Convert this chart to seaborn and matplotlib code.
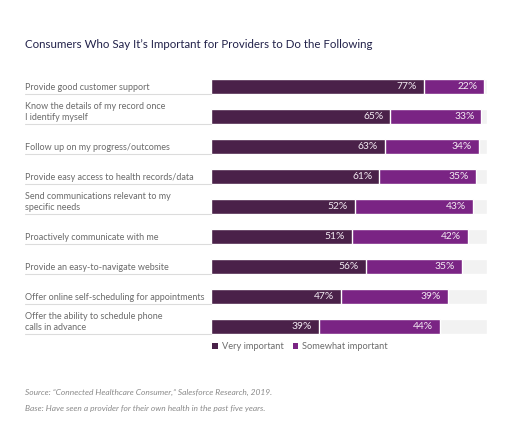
import matplotlib
matplotlib.use("Agg")
import matplotlib.pyplot as plt
import matplotlib.transforms as mtransforms
from matplotlib.lines import Line2D
from matplotlib.patches import Patch
import seaborn as sns
import pandas as pd

categories = [
    "Provide good customer support",
    "Know the details of my record once\nI identify myself",
    "Follow up on my progress/outcomes",
    "Provide easy access to health records/data",
    "Send communications relevant to my\nspecific needs",
    "Proactively communicate with me",
    "Provide an easy-to-navigate website",
    "Offer online self-scheduling for appointments",
    "Offer the ability to schedule phone\ncalls in advance",
]
very_important = [77, 65, 63, 61, 52, 51, 56, 47, 39]
somewhat_important = [22, 33, 34, 35, 43, 42, 35, 39, 44]
series_names = ["Very important", "Somewhat important"]

DARK = "#4a2149"
PURPLE = "#7a2484"
BG = "#f2f2f2"

sns.set_theme(style="white")
plt.rcParams["font.family"] = ["Lato", "DejaVu Sans"]

df = pd.DataFrame({
    "cat": categories,
    "very": very_important,
    "somewhat": somewhat_important,
})
df["total"] = df["very"] + df["somewhat"]
df["full"] = 100

fig = plt.figure(figsize=(5.12, 4.36), dpi=100)
ax = fig.add_axes([211 / 512, 1 - 341.5 / 436, 276 / 512, 270 / 436])

sns.barplot(data=df, y="cat", x="full", color=BG, width=0.5, ax=ax,
            saturation=1, orient="h")
sns.barplot(data=df, y="cat", x="total", color=PURPLE, width=0.5, ax=ax,
            saturation=1, orient="h")
sns.barplot(data=df, y="cat", x="very", color=DARK, width=0.5, ax=ax,
            saturation=1, orient="h")

ax.set_xlim(0, 100)
ax.set_ylim(8.5, -0.5)
ax.axis("off")

pad = mtransforms.offset_copy(ax.transData, fig=fig, x=-7, y=0, units="dots")
for i, (v, s) in enumerate(zip(very_important, somewhat_important)):
    ax.text(v, i, f"{v}%", transform=pad, ha="right", va="center",
            color="#f3ecf3", fontsize=7.4)
    ax.text(v + s, i, f"{s}%", transform=pad, ha="right", va="center",
            color="#f3ecf3", fontsize=7.4)

blend = mtransforms.blended_transform_factory(fig.transFigure, ax.transData)
for i, c in enumerate(categories):
    ax.text(25 / 512, i + 0.11, c, transform=blend, ha="left", va="baseline",
            color="#6b6b6b", fontsize=6.5, linespacing=1.25, clip_on=False)
    ax.add_line(Line2D([25 / 512, 211 / 512], [i + 0.25, i + 0.25],
                       transform=blend, color="#dcdcdc", lw=0.8, clip_on=False))

fig.text(25 / 512, 1 - 45 / 436, "Consumers Who Say It\u2019s Important for Providers to Do the Following",
         ha="left", va="center", color="#22224a", fontsize=8.3)

handles = [Patch(facecolor=DARK, edgecolor="none"),
           Patch(facecolor=PURPLE, edgecolor="none")]
fig.legend(handles, series_names, loc="center left",
           bbox_to_anchor=(204 / 512, 1 - 346.5 / 436), ncol=2, frameon=False,
           fontsize=6.7, handlelength=0.6, handleheight=0.6, handletextpad=0.4,
           columnspacing=1.0, labelcolor="#6b6b6b")

fig.text(25 / 512, 1 - 392 / 436,
         "Source: \u201cConnected Healthcare Consumer,\u201d Salesforce Research, 2019.",
         ha="left", va="center", color="#8a8a8a", fontsize=6.0, style="italic")
fig.text(25 / 512, 1 - 408 / 436,
         "Base: Have seen a provider for their own health in the past five years.",
         ha="left", va="center", color="#8a8a8a", fontsize=6.0, style="italic")

fig.savefig("out.png", dpi=100, facecolor="white")
